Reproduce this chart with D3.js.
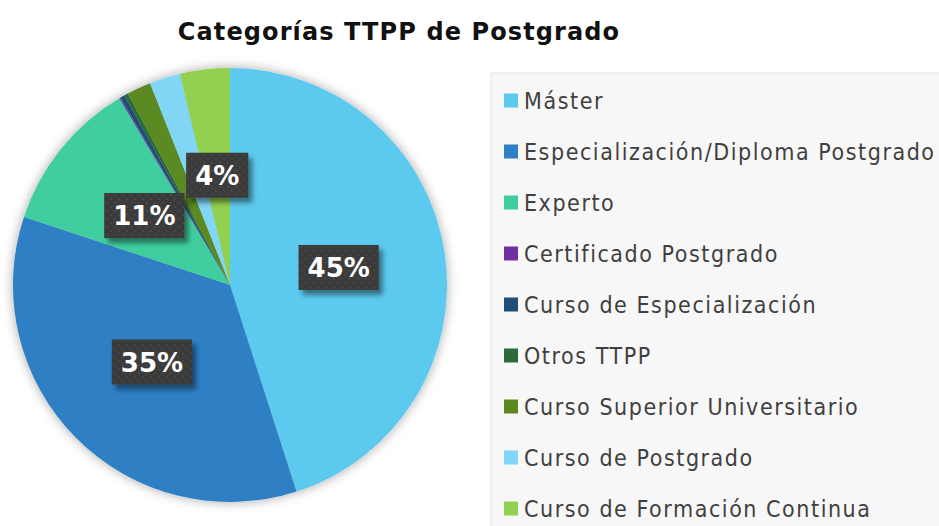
<!DOCTYPE html>
<html>
<head>
<meta charset="utf-8">
<script src="https://cdn.jsdelivr.net/npm/d3@7"></script>
<style>
  body { margin: 0; background: #ffffff; }
  svg { display: block; }
</style>
</head>
<body>
<div id="vis"></div>
<script>
const FRAME_WIDTH = 939;
const FRAME_HEIGHT = 526;

// data (percent of total)
const categories = ["Máster", "Especialización/Diploma Postgrado", "Experto",
  "Certificado Postgrado", "Curso de Especialización", "Otros TTPP",
  "Curso Superior Universitario", "Curso de Postgrado", "Curso de Formación Continua"];
const values = [45.0, 35.0, 11.4, 0.1, 0.3, 0.3, 1.8, 2.3, 3.7];
const colors = ["#5bc9ee", "#2e7fc3", "#3fcd9f", "#7030a0", "#1f4e79",
  "#2b6b3a", "#5b8a22", "#80d6f4", "#92d050"];
// only these slices carry a label in the original
const shownLabels = ["Máster", "Especialización/Diploma Postgrado", "Experto", "Curso de Formación Continua"];

const CX = 230, CY = 285, R = 217;

const svg = d3.select("#vis").append("svg")
  .attr("width", FRAME_WIDTH)
  .attr("height", FRAME_HEIGHT);

const defs = svg.append("defs");

const shadow = defs.append("filter").attr("id", "pieShadow")
  .attr("x", "-20%").attr("y", "-20%").attr("width", "140%").attr("height", "140%");
shadow.append("feGaussianBlur").attr("in", "SourceAlpha").attr("stdDeviation", 6);
shadow.append("feOffset").attr("dx", 0).attr("dy", 0).attr("result", "blur");
shadow.append("feComponentTransfer").append("feFuncA").attr("type", "linear").attr("slope", 0.35);
const m1 = shadow.append("feMerge");
m1.append("feMergeNode");
m1.append("feMergeNode").attr("in", "SourceGraphic");

const boxShadow = defs.append("filter").attr("id", "boxShadow")
  .attr("x", "-20%").attr("y", "-20%").attr("width", "150%").attr("height", "160%");
boxShadow.append("feGaussianBlur").attr("in", "SourceAlpha").attr("stdDeviation", 2.5);
boxShadow.append("feOffset").attr("dx", 4).attr("dy", 5);
boxShadow.append("feComponentTransfer").append("feFuncA").attr("type", "linear").attr("slope", 0.45);
const m2 = boxShadow.append("feMerge");
m2.append("feMergeNode");
m2.append("feMergeNode").attr("in", "SourceGraphic");

const dots = defs.append("pattern").attr("id", "dots")
  .attr("width", 8).attr("height", 8).attr("patternUnits", "userSpaceOnUse");
dots.append("rect").attr("width", 8).attr("height", 8).attr("fill", "#3a3a3a");
dots.append("rect").attr("x", 2).attr("y", 2).attr("width", 1.5).attr("height", 1.5).attr("fill", "#555");
dots.append("rect").attr("x", 6).attr("y", 6).attr("width", 1.5).attr("height", 1.5).attr("fill", "#555");

// title
svg.append("text")
  .attr("x", 399).attr("y", 40)
  .attr("text-anchor", "middle")
  .attr("font-family", "DejaVu Sans, sans-serif")
  .attr("font-weight", "bold")
  .attr("font-size", "24px")
  .attr("letter-spacing", "1.1px")
  .attr("fill", "#111")
  .text("Categorías TTPP de Postgrado");

const data = categories.map((c, i) => ({ name: c, value: values[i], color: colors[i] }));

const pie = d3.pie().value(d => d.value).sort(null);
const arc = d3.arc().innerRadius(0).outerRadius(R);
const labelArc = d3.arc().innerRadius(110).outerRadius(110);

const g = svg.append("g").attr("transform", "translate(" + CX + "," + CY + ")");

g.append("g").attr("filter", "url(#pieShadow)")
  .selectAll("path")
  .data(pie(data))
  .enter()
  .append("path")
    .attr("d", arc)
    .attr("fill", d => d.data.color);

const lbl = g.selectAll(".lbl")
  .data(pie(data).filter(d => shownLabels.includes(d.data.name)))
  .enter()
  .append("g")
    .attr("class", "lbl")
    .attr("transform", d => "translate(" + labelArc.centroid(d) + ")");

lbl.append("text")
  .attr("text-anchor", "middle")
  .attr("dy", "0.36em")
  .attr("font-family", "DejaVu Sans, sans-serif")
  .attr("font-weight", "bold")
  .attr("font-size", "26px")
  .attr("fill", "#ffffff")
  .text(d => Math.round(d.data.value) + "%")
  .each(function () {
    const b = this.getBBox();
    d3.select(this.parentNode).insert("rect", "text")
      .attr("x", b.x - 9).attr("y", -23)
      .attr("width", b.width + 18).attr("height", 45)
      .attr("fill", "url(#dots)")
      .attr("filter", "url(#boxShadow)");
  });

// legend
const LEG_X = 491, LEG_Y = 73;
svg.append("rect")
  .attr("x", LEG_X).attr("y", LEG_Y)
  .attr("width", 460).attr("height", 470)
  .attr("fill", "#f7f7f7")
  .attr("stroke", "#e3e3e3");

const legendY = d3.scaleBand().domain(categories).range([75, 534]);

const items = svg.selectAll(".leg")
  .data(data)
  .enter()
  .append("g")
    .attr("class", "leg")
    .attr("transform", d => "translate(" + 504 + "," + (legendY(d.name) + legendY.bandwidth() / 2) + ")");

items.append("rect")
  .attr("x", 0).attr("y", -7)
  .attr("width", 14).attr("height", 14)
  .attr("fill", d => d.color);

items.append("text")
  .attr("x", 20)
  .attr("dy", "0.36em")
  .attr("font-family", "DejaVu Sans Condensed, DejaVu Sans, sans-serif")
  .attr("font-size", "23px")
  .attr("letter-spacing", "1.55px")
  .attr("fill", "#404040")
  .text(d => d.name);
</script>
</body>
</html>
